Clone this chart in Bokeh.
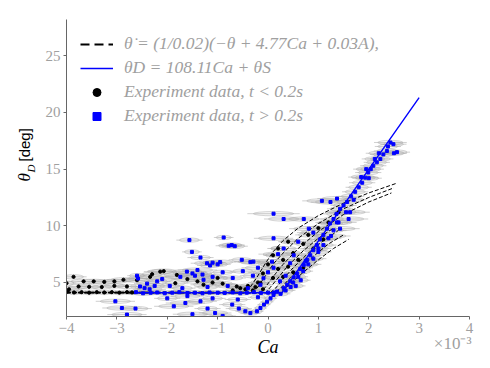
import numpy as np
from math import pi
from bokeh.plotting import figure
from bokeh.models import Range1d, Legend, LegendItem, Label, FixedTicker
from bokeh.embed import file_html
from bokeh.resources import INLINE

# ---------------- data (Ca in units of 1e-3, theta in deg) ----------------
x_ticks = [-4, -3, -2, -1, 0, 1, 2, 3, 4]
x_tick_labels = ["−4", "−3", "−2", "−1", "0", "1", "2", "3", "4"]
y_ticks = [5, 10, 15, 20, 25]

# fitted line theta_D = 108.11 Ca + theta_S
fit_ca = [-2.65, 0.28, 3.0]
fit_theta = [4.1, 4.1, 21.3]

# model curves (dashed)
c1_ca = [-4.0, -0.45, -0.35, -0.2, -0.05, 0.1, 0.3, 0.6, 1.0, 1.5, 2.0, 2.55]
c1_th = [4.15, 4.15, 4.6, 5.6, 6.7, 7.7, 8.7, 9.8, 10.9, 12.0, 12.9, 13.75]
c2_ca = [-4.0, -0.3, -0.2, -0.05, 0.1, 0.3, 0.6, 1.0, 1.5, 2.0, 2.5]
c2_th = [4.12, 4.12, 4.6, 5.6, 6.6, 7.6, 8.9, 10.2, 11.5, 12.5, 13.35]
c3_ca = [-4.0, -0.15, -0.05, 0.1, 0.3, 0.6, 1.0, 1.5, 2.0, 2.45]
c3_th = [4.1, 4.1, 4.6, 5.5, 6.6, 8.0, 9.5, 11.0, 12.1, 12.9]
c4_ca = [-4.0, -0.05, 0.05, 0.2, 0.4, 0.7, 1.0, 1.3]
c4_th = [4.1, 4.1, 4.6, 5.4, 6.5, 7.8, 8.9, 9.8]
c5_ca = [-4.0, 0.05, 0.15, 0.3, 0.5, 0.8, 1.1, 1.4]
c5_th = [4.1, 4.1, 4.5, 5.3, 6.3, 7.6, 8.7, 9.6]
c6_ca = [-4.0, 0.15, 0.25, 0.4, 0.6, 0.9, 1.2, 1.5]
c6_th = [4.1, 4.1, 4.5, 5.2, 6.1, 7.3, 8.4, 9.2]
c7_ca = [-4.0, 0.25, 0.35, 0.5, 0.7, 1.0, 1.3, 1.6]
c7_th = [4.1, 4.1, 4.5, 5.1, 5.9, 7.0, 8.0, 8.8]

# experiment data, t > 0.2 s (blue)
blue_flat_ca = [-2.62, -2.48, -2.33, -2.2, -2.05, -1.9, -1.76, -1.6, -1.45, -1.3,
                -1.16, -1.0, -0.86, -0.7, -0.55, -0.42, -0.28, -0.14, 0.0, 0.12]
blue_flat_th = [4.15, 4.05, 4.1, 4.12, 4.05, 4.1, 4.15, 4.08, 4.1, 4.05,
                4.12, 4.1, 4.08, 4.12, 4.05, 4.1, 4.15, 4.08, 4.1, 4.12]
blue_flat_err = [0.15, 0.2, 0.15, 0.2, 0.15, 0.2, 0.15, 0.2, 0.15, 0.2,
                 0.15, 0.2, 0.15, 0.2, 0.15, 0.1, 0.1, 0.1, 0.1, 0.1]

blue_neg_ca = [-2.60, -2.58, -2.54, -2.45, -2.40, -2.35, -2.25, -2.2,
               -3.03, -2.9, -2.63, -2.8, -1.87, -1.64, -1.34, -1.05, -0.71, -0.58,
               -0.45, -0.35, -1.2, -1.5, -0.9,
               -1.56, -0.88, -0.78, -0.72, -0.66, -1.51, -1.34, -1.21, -1.1, -1.0,
               -0.95, -1.15, -0.52, -0.35,
               -1.61, -1.5, -1.4, -1.45, -1.3, -1.74, -1.28, -1.1, -0.9, -0.7, -0.5,
               -0.3, -0.2, -2.1, -1.95, -1.7, -1.2, -0.8, -0.4,
               -2.0, -1.6, -1.1, -0.6, -0.2]
blue_neg_th = [5.6, 5.35, 4.65, 4.5, 4.9, 4.4, 4.7, 5.1,
               3.34, 2.75, 2.7, 2.17, 2.9, 3.19, 3.34, 2.31, 3.05, 2.7,
               2.46, 2.3, 2.7, 2.2, 2.05,
               8.74, 8.97, 8.24, 8.3, 8.2, 7.7, 7.2, 6.7, 6.75, 6.6,
               6.8, 6.5, 7.0, 6.8,
               5.96, 5.8, 6.1, 5.6, 5.7, 5.5, 5.24, 5.5, 5.9, 5.4, 6.0,
               5.6, 6.3, 5.3, 4.7, 4.5, 4.6, 4.7, 4.5,
               3.6, 3.8, 3.6, 3.5, 3.7]
blue_neg_err = [0.15, 0.2, 0.2, 0.15, 0.2, 0.25, 0.2, 0.2,
                0.3, 0.3, 0.25, 0.3, 0.3, 0.3, 0.25, 0.25, 0.2, 0.2,
                0.15, 0.15, 0.2, 0.3, 0.2,
                0.2, 0.15, 0.2, 0.2, 0.2, 0.15, 0.2, 0.25, 0.2, 0.2,
                0.25, 0.2, 0.2, 0.2,
                0.3, 0.3, 0.3, 0.3, 0.2, 0.3, 0.2, 0.2, 0.2, 0.2, 0.2,
                0.2, 0.25, 0.25, 0.2, 0.2, 0.2, 0.2, 0.15,
                0.2, 0.25, 0.2, 0.2, 0.15]

blue_diag_ca = [-0.22, -0.15, -0.08, -0.02, 0.05, 0.11, 0.18,
                0.31, 0.38, 0.44, 0.51, 0.58, 0.64, 0.71, 0.78, 0.84, 0.9, 0.97, 1.03,
                1.10, 1.17, 1.23, 1.30, 1.36, 1.43, 1.50, 1.57, 1.65, 1.73, 1.80, 1.87,
                1.93, 1.99, 2.04, 2.09, 2.16, 2.23, 2.29, 2.36, 2.43, 2.49, 2.5, 2.56,
                2.38, 2.2, 2.12, 1.95, 2.0, 1.85,
                0.5, 0.6, 0.7, 0.8, 0.9, 1.0, 1.1, 1.2, 1.0, 0.75, 0.45, 0.35, 0.25,
                0.55, 0.65, 1.3, 1.4, 1.55, 1.7]
blue_diag_th = [2.46, 2.75, 3.05, 3.3, 3.6, 3.9, 4.2,
                4.5, 4.8, 5.1, 5.45, 5.8, 6.2, 6.55, 7.0, 7.4, 7.85, 8.3, 8.8,
                9.2, 9.75, 10.2, 10.6, 11.05, 11.5, 11.8, 12.1, 12.6, 13.0, 13.4, 13.8,
                14.25, 14.7, 15.0, 15.3, 15.6, 15.9, 16.3, 16.6, 17.35, 17.2, 16.4, 16.5,
                17.0, 16.4, 15.9, 15.0, 14.2, 14.3,
                5.0, 5.5, 6.0, 6.6, 7.1, 7.7, 8.3, 8.9, 8.0, 6.9, 4.6, 4.3, 4.0,
                4.7, 5.2, 9.6, 10.3, 11.2, 12.3]
blue_diag_err = [0.1, 0.1, 0.1, 0.1, 0.1, 0.1, 0.1,
                 0.15, 0.15, 0.15, 0.15, 0.15, 0.15, 0.2, 0.2, 0.2, 0.2, 0.2, 0.2,
                 0.2, 0.2, 0.2, 0.2, 0.2, 0.2, 0.2, 0.2, 0.2, 0.2, 0.2, 0.2,
                 0.2, 0.2, 0.2, 0.2, 0.2, 0.2, 0.2, 0.2, 0.25, 0.2, 0.2, 0.2,
                 0.2, 0.2, 0.2, 0.2, 0.2, 0.2,
                 0.15, 0.15, 0.15, 0.2, 0.2, 0.2, 0.2, 0.2, 0.2, 0.2, 0.15, 0.15, 0.15,
                 0.15, 0.15, 0.2, 0.2, 0.2, 0.2]

blue_off_ca = [0.11, 0.31, 0.71, 1.07, 1.24, 1.37, 0.11, 0.08, -0.29, 0.11, 0.44,
               0.51, 0.31, 0.81, 0.9, 0.24, -0.09, 1.63, 1.37, 1.43, 1.6, 1.25, 0.6,
               0.2, 0.0, -0.15, 0.35]
blue_off_th = [11.07, 10.6, 10.6, 12.2, 12.1, 12.4, 8.9, 6.84, 6.84, 6.3, 6.7,
               7.4, 8.0, 9.75, 9.4, 5.1, 5.37, 11.2, 10.3, 9.75, 10.6, 9.1, 8.6,
               7.5, 5.9, 4.8, 5.6]
blue_off_err = [0.4, 0.3, 0.3, 0.3, 0.3, 0.3, 0.3, 0.3, 0.3, 0.25, 0.25,
                0.25, 0.25, 0.3, 0.25, 0.2, 0.2, 0.3, 0.3, 0.3, 0.3, 0.3, 0.3,
                0.3, 0.3, 0.2, 0.2]

# experiment data, t < 0.2 s (black)
black_flat_ca = [-3.98, -3.85, -3.7, -3.55, -3.4, -3.25, -3.1, -2.95, -2.8, -2.7]
black_flat_th = [4.2, 4.12, 4.15, 4.1, 4.15, 4.12, 4.15, 4.1, 4.15, 4.12]
black_flat_err = [0.1, 0.1, 0.1, 0.1, 0.1, 0.1, 0.1, 0.1, 0.1, 0.1]

black_neg_ca = [-3.95, -3.76, -3.55, -3.3, -3.05, -2.8,
                -4.0, -3.86, -3.66, -3.46, -3.25, -3.05, -2.87, -2.6, -2.34, -2.3,
                -2.07, -2.14, -1.81, -1.84, -1.6, -1.4, -1.28, -1.1, -0.9,
                -0.62, -0.55, -0.45, -0.4, -0.3, -0.25, -0.15, -0.1,
                -1.0, -0.7]
black_neg_th = [4.4, 4.65, 4.62, 4.6, 4.7, 4.65,
                4.94, 5.5, 5.1, 5.1, 5.05, 5.1, 5.24, 5.2, 5.5, 5.73,
                6.0, 5.96, 5.67, 4.94, 5.3, 5.1, 4.8, 5.0, 4.9,
                4.65, 4.5, 4.4, 4.7, 4.3, 4.6, 4.94, 4.4,
                5.4, 4.3]
black_neg_err = [0.2, 0.2, 0.2, 0.2, 0.2, 0.2,
                 0.15, 0.2, 0.25, 0.25, 0.25, 0.25, 0.25, 0.25, 0.25, 0.2,
                 0.25, 0.25, 0.25, 0.2, 0.25, 0.25, 0.2, 0.2, 0.2,
                 0.2, 0.2, 0.15, 0.15, 0.15, 0.15, 0.15, 0.15,
                 0.2, 0.15]

black_curve_ca = [-0.2, -0.1, 0.0, 0.1, 0.2, 0.3, 0.2, 0.1, 0.4, 0.5, 0.4, 0.3,
                  0.5, 0.6, 0.7, 0.8, 0.9, 0.7, 1.0, 1.2, 1.4, 1.1]
black_curve_th = [5.0, 5.8, 6.6, 7.4, 8.0, 7.0, 6.2, 5.4, 8.6, 7.6, 6.4, 5.5,
                  5.9, 7.0, 8.4, 9.2, 8.0, 6.3, 9.8, 10.3, 11.2, 8.8]
black_curve_err = [0.15, 0.15, 0.15, 0.15, 0.15, 0.15, 0.15, 0.15, 0.15, 0.15,
                   0.15, 0.15, 0.15, 0.15, 0.15, 0.2, 0.2, 0.15, 0.2, 0.2, 0.2, 0.2]

# ---------------- assemble ----------------
bx = np.array(blue_flat_ca + blue_neg_ca + blue_diag_ca + blue_off_ca)
by = np.array(blue_flat_th + blue_neg_th + blue_diag_th + blue_off_th)
be = np.array(blue_flat_err + blue_neg_err + blue_diag_err + blue_off_err)
kx = np.array(black_flat_ca + black_neg_ca + black_curve_ca)
ky = np.array(black_flat_th + black_neg_th + black_curve_th)
ke = np.array(black_flat_err + black_neg_err + black_curve_err)

W, H = 482, 360
p = figure(width=W, height=H, output_backend="svg", toolbar_location=None,
           x_range=Range1d(-4, 4), y_range=Range1d(2, 28.2),
           min_border_left=66, min_border_right=13, min_border_top=17,
           min_border_bottom=44)
p.outline_line_color = None
p.grid.visible = False
p.background_fill_color = "white"

allx = np.concatenate([kx, bx])
ally = np.concatenate([ky, by])
alle = np.concatenate([ke, be])
# horizontal error bars
p.segment(x0=allx - 1.3 * alle, y0=ally, x1=allx + 1.3 * alle, y1=ally,
          line_color="#c4c4c4", line_width=1, line_alpha=0.8)
# uncertainty ellipses
p.ellipse(x=allx, y=ally, width=2 * alle, height=0.38,
          fill_color="#808080", fill_alpha=0.07,
          line_color="#a8a8a8", line_alpha=0.6, line_width=0.8)

# model curves
curves = [(c1_ca, c1_th), (c2_ca, c2_th), (c3_ca, c3_th), (c4_ca, c4_th),
          (c5_ca, c5_th), (c6_ca, c6_th), (c7_ca, c7_th)]
for cx, cy in curves:
    p.line(cx, cy, line_color="black", line_width=1, line_dash="4 2")

black_r = p.scatter(kx, ky, marker="circle", size=3.2, fill_color="black",
                    line_color="black")
blue_r = p.scatter(bx, by, marker="square", size=3.0, fill_color="#0000ff",
                   line_color="#0000ff")
fit_r = p.line(fit_ca, fit_theta, line_color="#0000ff", line_width=1.4)

leg_dash = p.line([-4.0, -3.9], [4.15, 4.15], line_color="black", line_width=2.2,
                  line_dash="9 5", visible=False)
legend = Legend(items=[
    LegendItem(label="θ̇ = (1/0.02)(−θ + 4.77Ca + 0.03A),", renderers=[leg_dash]),
    LegendItem(label="θD = 108.11Ca + θS", renderers=[fit_r]),
    LegendItem(label="Experiment data, t < 0.2s", renderers=[black_r]),
    LegendItem(label="Experiment data, t > 0.2s", renderers=[blue_r]),
], location="top_left")
legend.border_line_color = None
legend.background_fill_alpha = 0
legend.margin = 14
legend.padding = 0
legend.spacing = 3
legend.glyph_width = 33
legend.glyph_height = 20
legend.label_height = 20
legend.label_standoff = 11
legend.label_text_font = "Liberation Serif"
legend.label_text_font_style = "italic"
legend.label_text_font_size = "17.5px"
legend.label_text_color = "#a0a0a0"
p.add_layout(legend, "center")

for ax in (p.xaxis[0], p.yaxis[0]):
    ax.axis_line_color = "#666666"
    ax.major_tick_line_color = "#666666"
    ax.major_tick_out = 3
    ax.major_tick_in = 0
    ax.minor_tick_line_color = None
    ax.major_label_text_font = "Liberation Serif"
    ax.major_label_text_font_size = "15px"
    ax.major_label_text_color = "#a0a0a0"
    ax.major_label_standoff = 3

p.xaxis.ticker = FixedTicker(ticks=x_ticks)
p.xaxis.major_label_overrides = {t: s for t, s in zip(x_ticks, x_tick_labels)}
p.yaxis.ticker = FixedTicker(ticks=y_ticks)
p.xaxis.axis_label = "Ca"
p.xaxis.axis_label_text_font = "Liberation Serif"
p.xaxis.axis_label_text_font_style = "italic"
p.xaxis.axis_label_text_font_size = "18px"
p.xaxis.axis_label_text_color = "black"
p.xaxis.axis_label_standoff = 1

# y-axis label pieces and offset text, canvas pixels; kept in side panels (unclipped)
p.add_layout(Label(x=24, y=181, x_units="canvas", y_units="canvas", text="θ",
                   angle=pi / 2, text_align="left", text_baseline="middle",
                   text_font="Liberation Serif", text_font_style="italic",
                   text_font_size="17px", text_color="black"), "left")
p.add_layout(Label(x=24, y=161, x_units="canvas", y_units="canvas", text="[deg]",
                   angle=pi / 2, text_align="left", text_baseline="middle",
                   text_font="Liberation Sans", text_font_size="15px",
                   text_color="black"), "left")
p.add_layout(Label(x=30, y=172, x_units="canvas", y_units="canvas", text="D",
                   angle=pi / 2, text_align="left", text_baseline="middle",
                   text_font="Liberation Serif", text_font_style="italic",
                   text_font_size="11px", text_color="black"), "right")
p.add_layout(Label(x=471, y=343, x_units="canvas", y_units="canvas",
                   text="×10⁻³", text_align="right", text_baseline="middle",
                   text_font="Liberation Serif", text_font_size="17px",
                   text_color="#a0a0a0"), "above")

open("out.html", "w").write(file_html(p, INLINE))
